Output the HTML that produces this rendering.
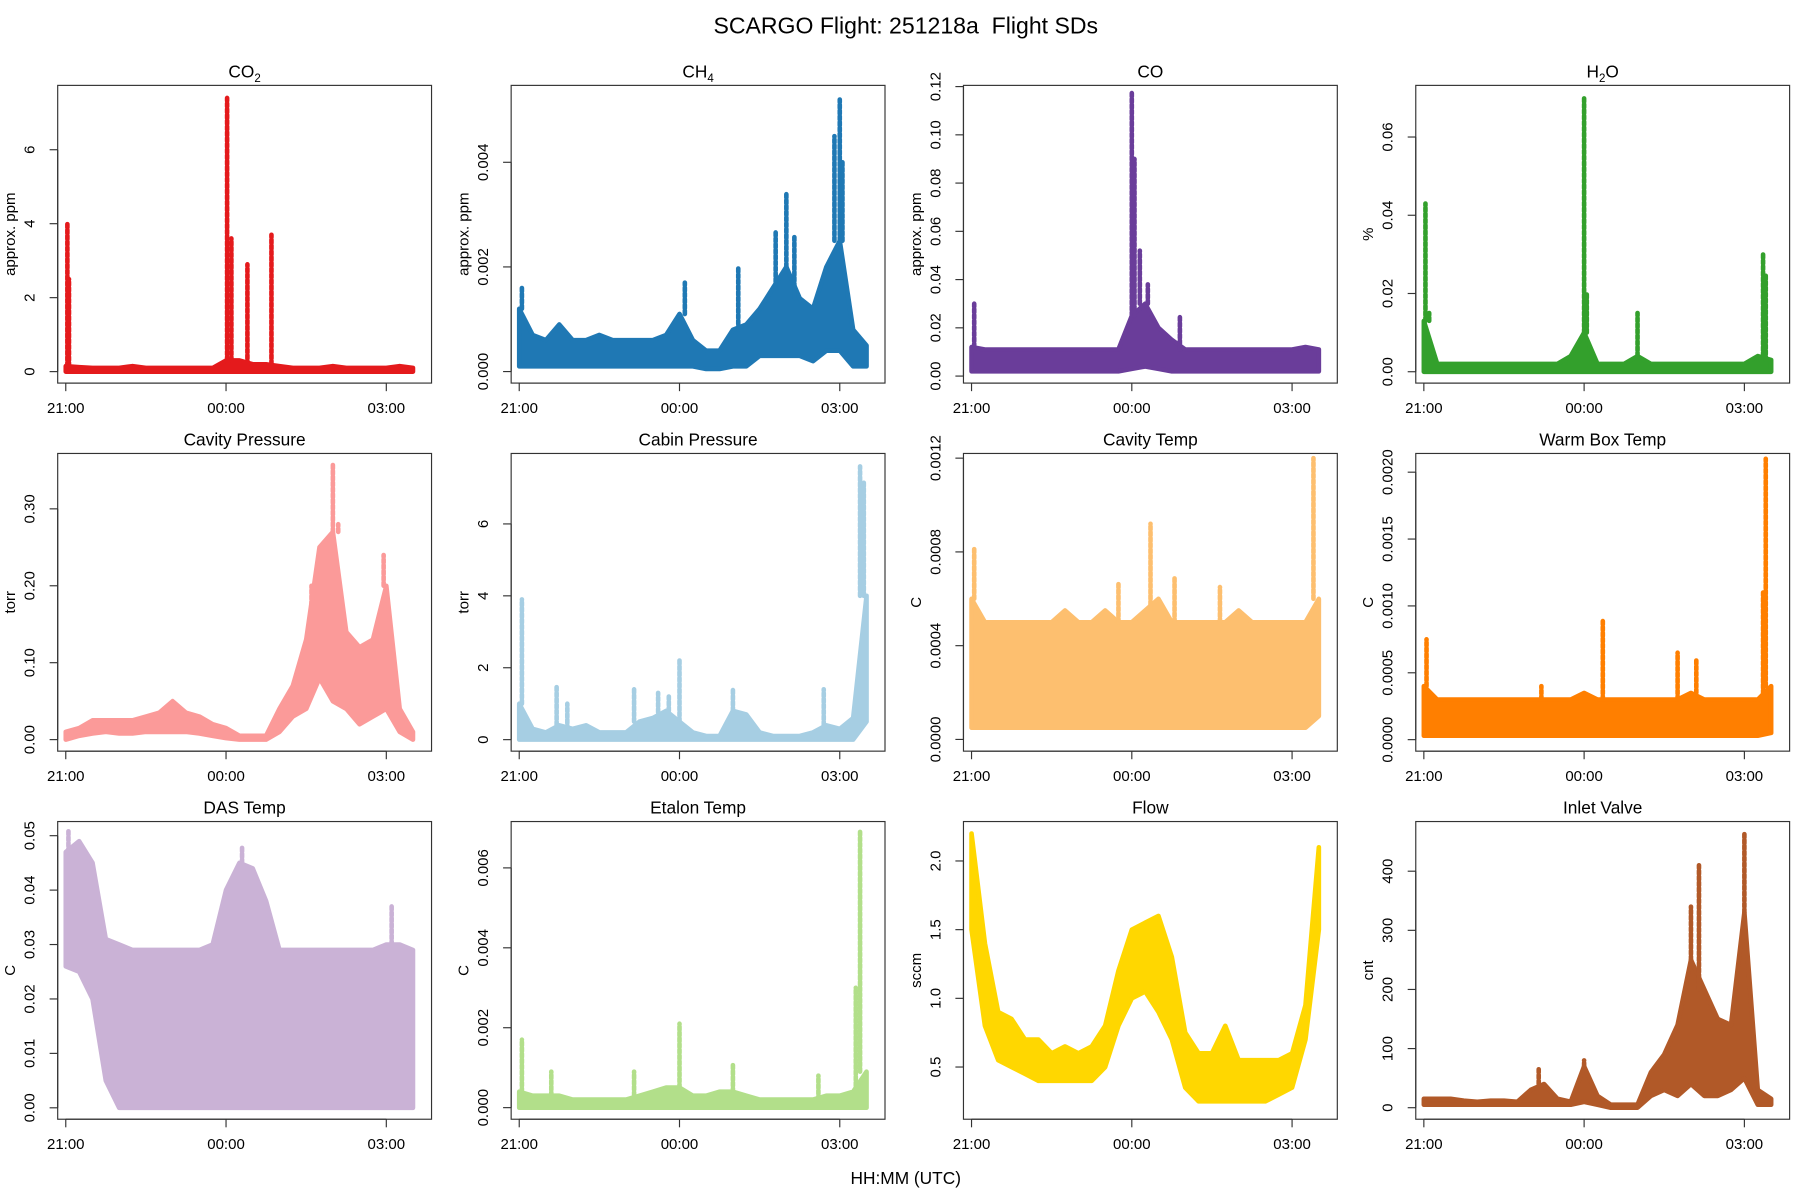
<!DOCTYPE html>
<html><head><meta charset="utf-8"><title>SCARGO Flight SDs</title>
<style>
html,body{margin:0;padding:0;background:#fff;}
svg{display:block;font-family:"Liberation Sans",Arial,sans-serif;}
</style></head>
<body>
<svg id="chart" xmlns="http://www.w3.org/2000/svg" width="1800" height="1200" viewBox="0 0 1560 1040">
<rect x="0" y="0" width="1560" height="1040" fill="#fff"/>
<text x="785" y="29" font-size="20" text-anchor="middle" style="white-space:pre">SCARGO Flight: 251218a  Flight SDs</text>
<text x="785" y="1026" font-size="15" text-anchor="middle">HH:MM (UTC)</text>
</svg>
<script>
// shared sample times (hours since 21:00)
const times = [0,0.25,0.5,0.75,1,1.25,1.5,1.75,2,2.25,2.5,2.75,3,3.25,3.5,3.75,4,4.25,4.5,4.75,5,5.25,5.5,5.75,6,6.25,6.5];
const timeTickLabels = ["21:00","00:00","03:00"];
const timeTickValues = [0,3,6];

const co2Hi = [0.15,0.12,0.1,0.1,0.1,0.15,0.1,0.1,0.1,0.1,0.1,0.1,0.3,0.3,0.2,0.2,0.15,0.1,0.1,0.1,0.15,0.1,0.1,0.1,0.1,0.15,0.1];
const co2Lo = [0,0,0,0,0,0,0,0,0,0,0,0,0,0,0,0,0,0,0,0,0,0,0,0,0,0,0];
const co2Spikes = [[0.03,4.0],[0.06,2.5],[3.02,7.4],[3.1,3.6],[3.4,2.9],[3.85,3.7]];

const ch4Hi = [0.0012,0.0007,0.0006,0.0009,0.0006,0.0006,0.0007,0.0006,0.0006,0.0006,0.0006,0.0007,0.0011,0.0006,0.0004,0.0004,0.0008,0.0009,0.0012,0.0016,0.002,0.0014,0.0012,0.002,0.0025,0.0008,0.0005];
const ch4Lo = [0.0001,0.0001,0.0001,0.0001,0.0001,0.0001,0.0001,0.0001,0.0001,0.0001,0.0001,0.0001,0.0001,0.0001,0.00005,0.00005,0.0001,0.0001,0.0003,0.0003,0.0003,0.0003,0.0002,0.0004,0.0004,0.0001,0.0001];
const ch4Spikes = [[0.05,0.0016],[3.1,0.0017],[4.1,0.002],[4.8,0.0027],[5.0,0.0034],[5.15,0.0026],[5.9,0.0045],[6.0,0.0052],[6.05,0.004]];

const coHi = [0.012,0.011,0.011,0.011,0.011,0.011,0.011,0.011,0.011,0.011,0.011,0.011,0.025,0.03,0.02,0.015,0.011,0.011,0.011,0.011,0.011,0.011,0.011,0.011,0.011,0.012,0.011];
const coLo = [0.002,0.002,0.002,0.002,0.002,0.002,0.002,0.002,0.002,0.002,0.002,0.002,0.003,0.004,0.003,0.002,0.002,0.002,0.002,0.002,0.002,0.002,0.002,0.002,0.002,0.002,0.002];
const coSpikes = [[0.05,0.03],[3.0,0.118],[3.05,0.09],[3.15,0.052],[3.3,0.038],[3.9,0.025]];

const h2oHi = [0.013,0.002,0.002,0.002,0.002,0.002,0.002,0.002,0.002,0.002,0.002,0.004,0.01,0.002,0.002,0.002,0.004,0.002,0.002,0.002,0.002,0.002,0.002,0.002,0.002,0.004,0.003];
const h2oLo = [0,0,0,0,0,0,0,0,0,0,0,0,0,0,0,0,0,0,0,0,0,0,0,0,0,0,0];
const h2oSpikes = [[0.03,0.043],[0.1,0.015],[3.0,0.07],[3.05,0.02],[4.0,0.015],[6.35,0.03],[6.4,0.025]];

const cavPHi = [0.01,0.015,0.025,0.025,0.025,0.025,0.03,0.035,0.05,0.035,0.03,0.02,0.015,0.005,0.005,0.005,0.04,0.07,0.13,0.25,0.27,0.14,0.12,0.13,0.2,0.04,0.01];
const cavPLo = [0,0.005,0.008,0.01,0.008,0.008,0.01,0.01,0.01,0.01,0.008,0.005,0.002,0,0,0,0.01,0.03,0.04,0.08,0.05,0.04,0.02,0.03,0.04,0.01,0];
const cavPSpikes = [[4.6,0.2],[5.0,0.36],[5.1,0.28],[5.95,0.24]];

const cabHi = [1.0,0.3,0.2,0.4,0.3,0.4,0.2,0.2,0.2,0.5,0.6,0.8,0.5,0.2,0.1,0.1,0.8,0.7,0.2,0.1,0.1,0.1,0.2,0.4,0.3,0.6,4.0];
const cabLo = [0,0,0,0,0,0,0,0,0,0,0,0,0,0,0,0,0,0,0,0,0,0,0,0,0,0,0.5];
const cabSpikes = [[0.05,3.9],[0.7,1.5],[0.9,1.0],[2.15,1.4],[2.6,1.3],[2.8,1.2],[3.0,2.2],[4.0,1.4],[5.7,1.4],[6.38,7.6],[6.45,7.2]];

const cavTHi = [0.0006,0.0005,0.0005,0.0005,0.0005,0.0005,0.0005,0.00055,0.0005,0.0005,0.00055,0.0005,0.0005,0.00055,0.0006,0.0005,0.0005,0.0005,0.0005,0.0005,0.00055,0.0005,0.0005,0.0005,0.0005,0.0005,0.0006];
const cavTLo = [0.00005,0.00005,0.00005,0.00005,0.00005,0.00005,0.00005,0.00005,0.00005,0.00005,0.00005,0.00005,0.00005,0.00005,0.00005,0.00005,0.00005,0.00005,0.00005,0.00005,0.00005,0.00005,0.00005,0.00005,0.00005,0.00005,0.0001];
const cavTSpikes = [[0.05,0.00082],[2.75,0.00067],[3.35,0.00092],[3.8,0.00069],[4.65,0.00065],[6.4,0.0012]];

const wbHi = [0.0004,0.0003,0.0003,0.0003,0.0003,0.0003,0.0003,0.0003,0.0003,0.0003,0.0003,0.0003,0.00035,0.0003,0.0003,0.0003,0.0003,0.0003,0.0003,0.0003,0.00035,0.0003,0.0003,0.0003,0.0003,0.0003,0.0004];
const wbLo = [0.00003,0.00003,0.00003,0.00003,0.00003,0.00003,0.00003,0.00003,0.00003,0.00003,0.00003,0.00003,0.00003,0.00003,0.00003,0.00003,0.00003,0.00003,0.00003,0.00003,0.00003,0.00003,0.00003,0.00003,0.00003,0.00003,0.00005];
const wbSpikes = [[0.05,0.00075],[2.2,0.0004],[3.35,0.0009],[4.75,0.00065],[5.1,0.0006],[6.35,0.0011],[6.4,0.0021]];

const dasHi = [0.047,0.049,0.045,0.031,0.03,0.029,0.029,0.029,0.029,0.029,0.029,0.03,0.04,0.045,0.044,0.038,0.029,0.029,0.029,0.029,0.029,0.029,0.029,0.029,0.03,0.03,0.029];
const dasLo = [0.026,0.025,0.02,0.005,0,0,0,0,0,0,0,0,0,0,0,0,0,0,0,0,0,0,0,0,0,0,0];
const dasSpikes = [[0.05,0.051],[3.3,0.048],[6.1,0.037]];

const etHi = [0.0004,0.0003,0.0003,0.0003,0.0002,0.0002,0.0002,0.0002,0.0002,0.0003,0.0004,0.0005,0.0005,0.0003,0.0003,0.0004,0.0004,0.0003,0.0002,0.0002,0.0002,0.0002,0.0002,0.0003,0.0003,0.0004,0.0009];
const etLo = [0,0,0,0,0,0,0,0,0,0,0,0,0,0,0,0,0,0,0,0,0,0,0,0,0,0,0];
const etSpikes = [[0.05,0.0017],[0.6,0.0009],[2.15,0.0009],[3.0,0.0021],[4.0,0.0011],[5.6,0.0008],[6.3,0.003],[6.38,0.0069]];

const flowHi = [2.2,1.4,0.9,0.85,0.7,0.7,0.6,0.65,0.6,0.65,0.8,1.2,1.5,1.55,1.6,1.3,0.75,0.6,0.6,0.8,0.55,0.55,0.55,0.55,0.6,0.95,2.1];
const flowLo = [1.5,0.8,0.55,0.5,0.45,0.4,0.4,0.4,0.4,0.4,0.5,0.8,1.0,1.05,0.9,0.7,0.35,0.25,0.25,0.25,0.25,0.25,0.25,0.3,0.35,0.7,1.5];
const flowSpikes = [];

const inletHi = [15,15,15,12,10,12,12,10,30,40,15,10,70,20,5,5,5,60,90,140,250,200,150,140,330,30,15];
const inletLo = [5,5,5,5,5,5,5,5,5,5,5,5,10,5,0,0,0,20,30,20,40,20,20,30,50,5,5];
const inletSpikes = [[2.15,65],[3.0,80],[5.0,340],[5.15,410],[5.5,150],[6.0,465]];

const panels = [
 {key:"co2",title:["CO","2"],ylab:"approx. ppm",color:"#E41A1C",dom:[-0.31,7.74],ticks:[0,2,4,6],tl:["0","2","4","6"],hi:co2Hi,lo:co2Lo,sp:co2Spikes},
 {key:"ch4",title:["CH","4"],ylab:"approx. ppm",color:"#1F78B4",dom:[-0.00022,0.00547],ticks:[0,0.002,0.004],tl:["0.000","0.002","0.004"],hi:ch4Hi,lo:ch4Lo,sp:ch4Spikes},
 {key:"co",title:["CO",""],ylab:"approx. ppm",color:"#6A3D9A",dom:[-0.0029,0.1205],ticks:[0,0.02,0.04,0.06,0.08,0.10,0.12],tl:["0.00","0.02","0.04","0.06","0.08","0.10","0.12"],hi:coHi,lo:coLo,sp:coSpikes},
 {key:"h2o",title:["H","2","O"],ylab:"%",color:"#33A02C",dom:[-0.0029,0.0732],ticks:[0,0.02,0.04,0.06],tl:["0.00","0.02","0.04","0.06"],hi:h2oHi,lo:h2oLo,sp:h2oSpikes},
 {key:"cavity-pressure",title:["Cavity Pressure",""],ylab:"torr",color:"#FB9A99",dom:[-0.015,0.372],ticks:[0,0.1,0.2,0.3],tl:["0.00","0.10","0.20","0.30"],hi:cavPHi,lo:cavPLo,sp:cavPSpikes},
 {key:"cabin-pressure",title:["Cabin Pressure",""],ylab:"torr",color:"#A6CEE3",dom:[-0.32,7.96],ticks:[0,2,4,6],tl:["0","2","4","6"],hi:cabHi,lo:cabLo,sp:cabSpikes},
 {key:"cavity-temp",title:["Cavity Temp",""],ylab:"C",color:"#FDBF6F",dom:[-0.00005,0.00122],ticks:[0,0.0004,0.0008,0.0012],tl:["0.0000","0.0004","0.0008","0.0012"],hi:cavTHi,lo:cavTLo,sp:cavTSpikes},
 {key:"warm-box-temp",title:["Warm Box Temp",""],ylab:"C",color:"#FF7F00",dom:[-0.000086,0.00214],ticks:[0,0.0005,0.001,0.0015,0.002],tl:["0.0000","0.0005","0.0010","0.0015","0.0020"],hi:wbHi,lo:wbLo,sp:wbSpikes},
 {key:"das-temp",title:["DAS Temp",""],ylab:"C",color:"#CAB2D6",dom:[-0.0021,0.0526],ticks:[0,0.01,0.02,0.03,0.04,0.05],tl:["0.00","0.01","0.02","0.03","0.04","0.05"],hi:dasHi,lo:dasLo,sp:dasSpikes},
 {key:"etalon-temp",title:["Etalon Temp",""],ylab:"C",color:"#B2DF8A",dom:[-0.00029,0.00716],ticks:[0,0.002,0.004,0.006],tl:["0.000","0.002","0.004","0.006"],hi:etHi,lo:etLo,sp:etSpikes},
 {key:"flow",title:["Flow",""],ylab:"sccm",color:"#FFD700",dom:[0.12,2.287],ticks:[0.5,1,1.5,2],tl:["0.5","1.0","1.5","2.0"],hi:flowHi,lo:flowLo,sp:flowSpikes},
 {key:"inlet-valve",title:["Inlet Valve",""],ylab:"cnt",color:"#B15928",dom:[-19.5,484],ticks:[0,100,200,300,400],tl:["0","100","200","300","400"],hi:inletHi,lo:inletLo,sp:inletSpikes}
];

const NS = "http://www.w3.org/2000/svg";
const svg = document.getElementById("chart");
const lefts = [50,443,835,1227], tops = [74,393,712], W = 324, H = 258;
function mk(tag, attrs, parent){const e=document.createElementNS(NS,tag);for(const k in attrs)e.setAttribute(k,attrs[k]);parent.appendChild(e);return e;}

panels.forEach((p,i)=>{
  const L = lefts[i%4], T = tops[Math.floor(i/4)], B = T+H;
  const g = mk("g",{},svg);
  
  
  const xs = t => L + 7 + t*46.3;
  const ys = v => B - (v - p.dom[0])/(p.dom[1]-p.dom[0])*H;
  let pts = [];
  times.forEach((t,k)=>pts.push(xs(t).toFixed(1)+","+ys(p.hi[k]).toFixed(1)));
  for(let k=times.length-1;k>=0;k--) pts.push(xs(times[k]).toFixed(1)+","+ys(p.lo[k]).toFixed(1));
  const band = mk("polygon",{points:pts.join(" "),fill:p.color,stroke:p.color,"stroke-width":4,"stroke-linejoin":"round"},g);
  
  
  p.sp.forEach(s=>{
    const base = p.hi[Math.min(times.length-1,Math.round(s[0]/0.25))];
    const ln = mk("line",{x1:xs(s[0]),x2:xs(s[0]),y1:ys(base),y2:ys(s[1]),stroke:p.color,"stroke-width":4,"stroke-linecap":"round","stroke-dasharray":"3 2"},g);
    
    
  });
  const fr = mk("rect",{x:L,y:T,width:W,height:H,fill:"none",stroke:"#333","stroke-width":1},g);
  
  
  const tt = mk("text",{x:L+W/2,y:T-7,"font-size":15,"text-anchor":"middle"},g);
  
  
  tt.appendChild(document.createTextNode(p.title[0]));
  if(p.title[1]){const sb=mk("tspan",{"font-size":10,dy:4},tt);sb.textContent=p.title[1];}
  if(p.title[2]){const r=mk("tspan",{dy:-4},tt);r.textContent=p.title[2];}
  const tx = L-20;
  p.ticks.forEach((v,k)=>{
    const y = ys(v);
    mk("line",{x1:L-7,x2:L,y1:y,y2:y,stroke:"#333","stroke-width":1},g);
    const lb = mk("text",{x:tx,y:y,"font-size":13,"text-anchor":"middle",transform:`rotate(-90 ${tx} ${y})`},g);
    
    
    lb.textContent = p.tl[k];
  });
  mk("line",{x1:L,x2:L,y1:ys(p.ticks[0]),y2:ys(p.ticks[p.ticks.length-1]),stroke:"#333"},g);
  const ax = L - 37;
  const yl = mk("text",{x:ax,y:T+H/2,"font-size":13,"text-anchor":"middle",transform:`rotate(-90 ${ax} ${T+H/2})`},g);
  
  
  yl.textContent = p.ylab;
  timeTickValues.forEach((t,k)=>{
    const x = xs(t);
    mk("line",{x1:x,x2:x,y1:B,y2:B+7,stroke:"#333"},g);
    const xl = mk("text",{x:x,y:B+26,"font-size":13,"text-anchor":"middle"},g);
    
    
    xl.textContent = timeTickLabels[k];
  });
  mk("line",{x1:xs(0),x2:xs(6),y1:B,y2:B,stroke:"#333"},g);
});
</script>
</body></html>
